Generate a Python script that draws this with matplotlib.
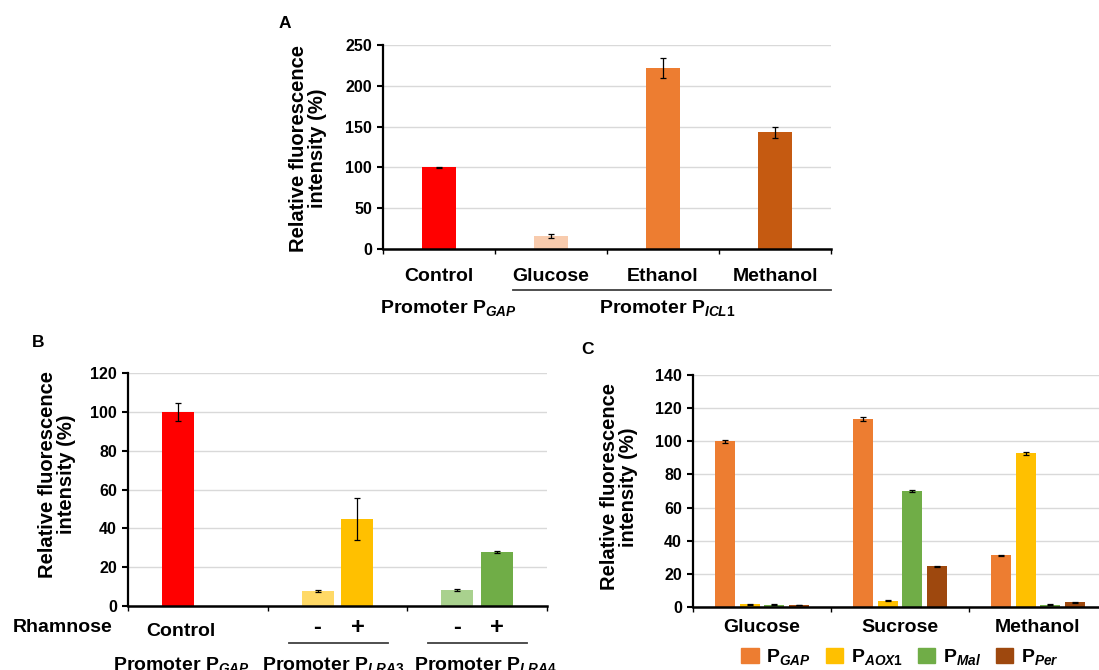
import numpy as np
import matplotlib
matplotlib.use("Agg")
import matplotlib.pyplot as plt
from matplotlib.patches import Patch

plt.rcParams["font.family"] = ["Liberation Sans", "DejaVu Sans"]
plt.rcParams["font.weight"] = "bold"
plt.rcParams["mathtext.fontset"] = "custom"
plt.rcParams["mathtext.rm"] = "Liberation Sans:bold"
plt.rcParams["mathtext.it"] = "Liberation Sans:italic:bold"
plt.rcParams["mathtext.bf"] = "Liberation Sans:bold"

# panel A: promoter P_ICL1 on different carbon sources
a_labels = ["Control", "Glucose", "Ethanol", "Methanol"]
a_values = [100, 16, 222, 143]
a_errors = [1, 2, 12, 7]
a_colors = ["#FF0000", "#F8CBAD", "#ED7D31", "#C55A11"]

# panel B: rhamnose induction, (-) and (+) per promoter
b_groups = ["Control", "LRA3", "LRA4"]
b_minus = [100, 7.7, 8.2]
b_minus_err = [4.5, 0.5, 0.5]
b_minus_colors = ["#FF0000", "#FFD966", "#A9D18E"]
b_plus = [None, 44.8, 27.8]
b_plus_err = [None, 10.8, 0.7]
b_plus_colors = [None, "#FFC000", "#70AD47"]

# panel C: four promoters on three carbon sources
c_sources = ["Glucose", "Sucrose", "Methanol"]
c_series = ["GAP", "AOX1", "Mal", "Per"]
c_gap = [100, 113.4, 31.3]
c_gap_err = [1.0, 1.2, 0.3]
c_aox1 = [1.8, 3.8, 92.8]
c_aox1_err = [0.3, 0.3, 0.8]
c_mal = [1.5, 70, 1.5]
c_mal_err = [0.3, 0.8, 0.2]
c_per = [1.2, 24.5, 2.8]
c_per_err = [0.2, 0.3, 0.3]
c_colors = ["#ED7D31", "#FFC000", "#70AD47", "#9E480E"]

W, H = 1099, 670
ERR = dict(ecolor="black", elinewidth=0.9, capsize=2.5, capthick=0.9)
YLABEL = "Relative fluorescence\nintensity (%)"


def px(x, y):
    return x / W, 1 - y / H


def rect(l, t, r, b):
    return [l / W, 1 - b / H, (r - l) / W, (b - t) / H]


def style(ax, ncat, ymax, step):
    ax.set_xlim(-0.5, ncat - 0.5)
    ax.set_ylim(0, ymax)
    ax.set_yticks(np.arange(0, ymax + 1, step))
    ax.set_xticks(np.arange(ncat + 1) - 0.5)
    ax.set_xticklabels([])
    ax.tick_params(axis="x", length=3.5, width=1, direction="out")
    ax.tick_params(axis="y", length=4, width=1.5, labelsize=11.5, pad=4)
    for s in ["top", "right"]:
        ax.spines[s].set_visible(False)
    ax.spines["left"].set_linewidth(1.6)
    ax.spines["bottom"].set_linewidth(1.8)
    ax.grid(axis="y", color="#D9D9D9", linewidth=1)
    ax.set_axisbelow(True)
    for lab in ax.get_yticklabels():
        lab.set_fontweight("bold")


fig = plt.figure(figsize=(W / 100, H / 100), dpi=100)

# ---------- A ----------
axA = fig.add_axes(rect(383, 45, 831, 249))
xa = np.arange(len(a_labels))
axA.bar(xa, a_values, width=0.31, color=a_colors, yerr=a_errors, error_kw=ERR, zorder=2)
style(axA, len(a_labels), 250, 50)
ta = axA.get_xaxis_transform()
for i, lab in enumerate(a_labels):
    axA.text(i, -0.137, lab, transform=ta, ha="center", va="center", fontsize=14)
axA.plot([0.66, 3.5], [-0.201, -0.201], transform=ta, color="#404040", lw=1.3, clip_on=False)
axA.text(0.08, -0.289, r"Promoter P$_{\mathit{GAP}}$", transform=ta, ha="center", va="center", fontsize=14)
axA.text(2.04, -0.289, r"Promoter P$_{\mathit{ICL1}}$", transform=ta, ha="center", va="center", fontsize=14)
fig.text(*px(308, 148), YLABEL, rotation=90, ha="center", va="center", fontsize=14.5, linespacing=1.05)
fig.text(*px(285, 23), "A", ha="center", va="center", fontsize=12.5)

# ---------- B ----------
axB = fig.add_axes(rect(128, 373, 547, 606))
off = 0.143
for i in range(len(b_groups)):
    axB.bar(i - off, b_minus[i], width=0.229, color=b_minus_colors[i],
            yerr=b_minus_err[i], error_kw=ERR, zorder=2)
    if b_plus[i] is not None:
        axB.bar(i + off, b_plus[i], width=0.229, color=b_plus_colors[i],
                yerr=b_plus_err[i], error_kw=ERR, zorder=2)
style(axB, len(b_groups), 120, 20)
tb = axB.get_xaxis_transform()
axB.text(-0.97, -0.094, "Rhamnose", transform=tb, ha="center", va="center", fontsize=14)
axB.text(-0.12, -0.11, "Control", transform=tb, ha="center", va="center", fontsize=14)
for i in range(1, len(b_groups)):
    axB.text(i - off, -0.092, "-", transform=tb, ha="center", va="center", fontsize=17)
    axB.text(i + off, -0.092, "+", transform=tb, ha="center", va="center", fontsize=17)
    axB.plot([i - 0.35, i + 0.36], [-0.159, -0.159], transform=tb, color="#404040", lw=1.3, clip_on=False)
b_promoters = [r"Promoter P$_{\mathit{GAP}}$", r"Promoter P$_{\mathit{LRA3}}$", r"Promoter P$_{\mathit{LRA4}}$"]
b_prom_x = [-0.12, 0.97, 2.06]
for i, lab in enumerate(b_promoters):
    axB.text(b_prom_x[i], -0.255, lab, transform=tb, ha="center", va="center", fontsize=14)
fig.text(*px(57, 474), YLABEL, rotation=90, ha="center", va="center", fontsize=14.5, linespacing=1.05)
fig.text(*px(38, 342), "B", ha="center", va="center", fontsize=12.5)

# ---------- C ----------
axC = fig.add_axes(rect(693, 375, 1107, 607))
xc = np.arange(len(c_sources))
c_vals = [c_gap, c_aox1, c_mal, c_per]
c_errs = [c_gap_err, c_aox1_err, c_mal_err, c_per_err]
step = 0.181
for k in range(len(c_series)):
    axC.bar(xc + (k - 1.5) * step, c_vals[k], width=0.145, color=c_colors[k],
            yerr=c_errs[k], error_kw=ERR, zorder=2)
style(axC, len(c_sources), 140, 20)
tc = axC.get_xaxis_transform()
for i, lab in enumerate(c_sources):
    axC.text(i, -0.09, lab, transform=tc, ha="center", va="center", fontsize=14)
handles = [Patch(color=c) for c in c_colors]
labels = [r"P$_{\mathit{%s}}$" % s for s in c_series]
fig.legend(handles, labels, loc="center", bbox_to_anchor=px(900, 657), ncol=4, frameon=False,
           fontsize=14, handlelength=0.9, handleheight=0.8, handletextpad=0.4, columnspacing=0.75,
           borderpad=0)
fig.text(*px(619, 487), YLABEL, rotation=90, ha="center", va="center", fontsize=14.5, linespacing=1.05)
fig.text(*px(587, 350), "C", ha="center", va="center", fontsize=12.5)

fig.savefig("out.png", dpi=100)
